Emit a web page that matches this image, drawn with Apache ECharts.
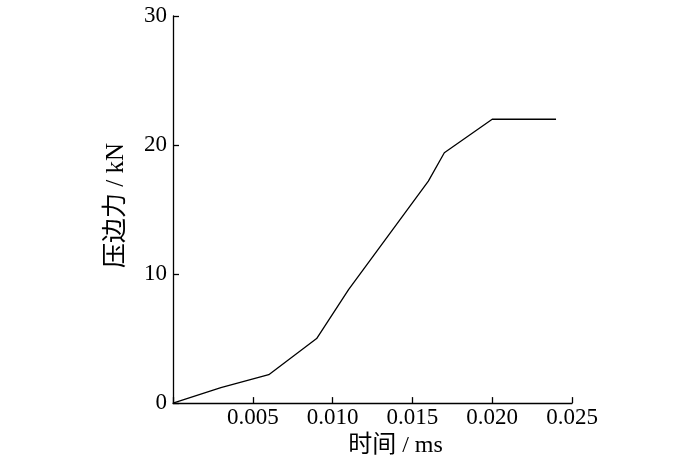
<!DOCTYPE html>
<html>
<head>
<meta charset="utf-8">
<script src="https://cdn.jsdelivr.net/npm/echarts@6/dist/echarts.min.js"></script>
<style>html,body{margin:0;padding:0;background:#fff}#c{width:700px;height:463px}</style>
</head>
<body>
<div id="c"></div>
<script>
var timeMs = [0, 0.003, 0.006, 0.009, 0.011, 0.016, 0.017, 0.020, 0.024];
var forceKN = [0, 1.2, 2.2, 5.0, 8.8, 17.2, 19.4, 22.0, 22.0];
var xName = '时间 / ms';
var yName = '压边力 / kN';
var font = '"Liberation Serif", "Times New Roman", "Noto Sans CJK SC", serif';

var chart = echarts.init(document.getElementById('c'), null, {renderer: 'canvas'});
chart.setOption({
  animation: false,
  backgroundColor: '#fff',
  grid: {left: 173, right: 128, top: 16, bottom: 59, containLabel: false},
  xAxis: {
    type: 'value', min: 0, max: 0.025, interval: 0.005,
    name: xName, nameLocation: 'middle', nameGap: 26,
    nameTextStyle: {fontFamily: font, fontSize: 24, color: '#000', padding: [0, 0, 0, 46]},
    axisLine: {show: true, lineStyle: {color: '#000', width: 1.3}},
    axisTick: {show: true, inside: true, length: 6, lineStyle: {color: '#000', width: 1.3}},
    axisLabel: {fontFamily: font, fontSize: 23, color: '#000', margin: 3,
      formatter: function (v) { return v === 0 ? '' : v.toFixed(3); }},
    splitLine: {show: false}
  },
  yAxis: {
    type: 'value', min: 0, max: 30, interval: 10,
    name: yName, nameLocation: 'middle', nameGap: 44, nameRotate: 90,
    nameTextStyle: {fontFamily: font, fontSize: 25, color: '#000', padding: [0, 0, 0, 8]},
    axisLine: {show: true, lineStyle: {color: '#000', width: 1.3}},
    axisTick: {show: true, inside: true, length: 6, lineStyle: {color: '#000', width: 1.3}},
    axisLabel: {fontFamily: font, fontSize: 23, color: '#000', margin: 6},
    splitLine: {show: false}
  },
  series: [{
    type: 'line',
    data: timeMs.map(function (t, i) { return [t, forceKN[i]]; }),
    showSymbol: false, symbol: 'none',
    lineStyle: {color: '#000', width: 1.3},
    smooth: false
  }]
});
</script>
</body>
</html>
